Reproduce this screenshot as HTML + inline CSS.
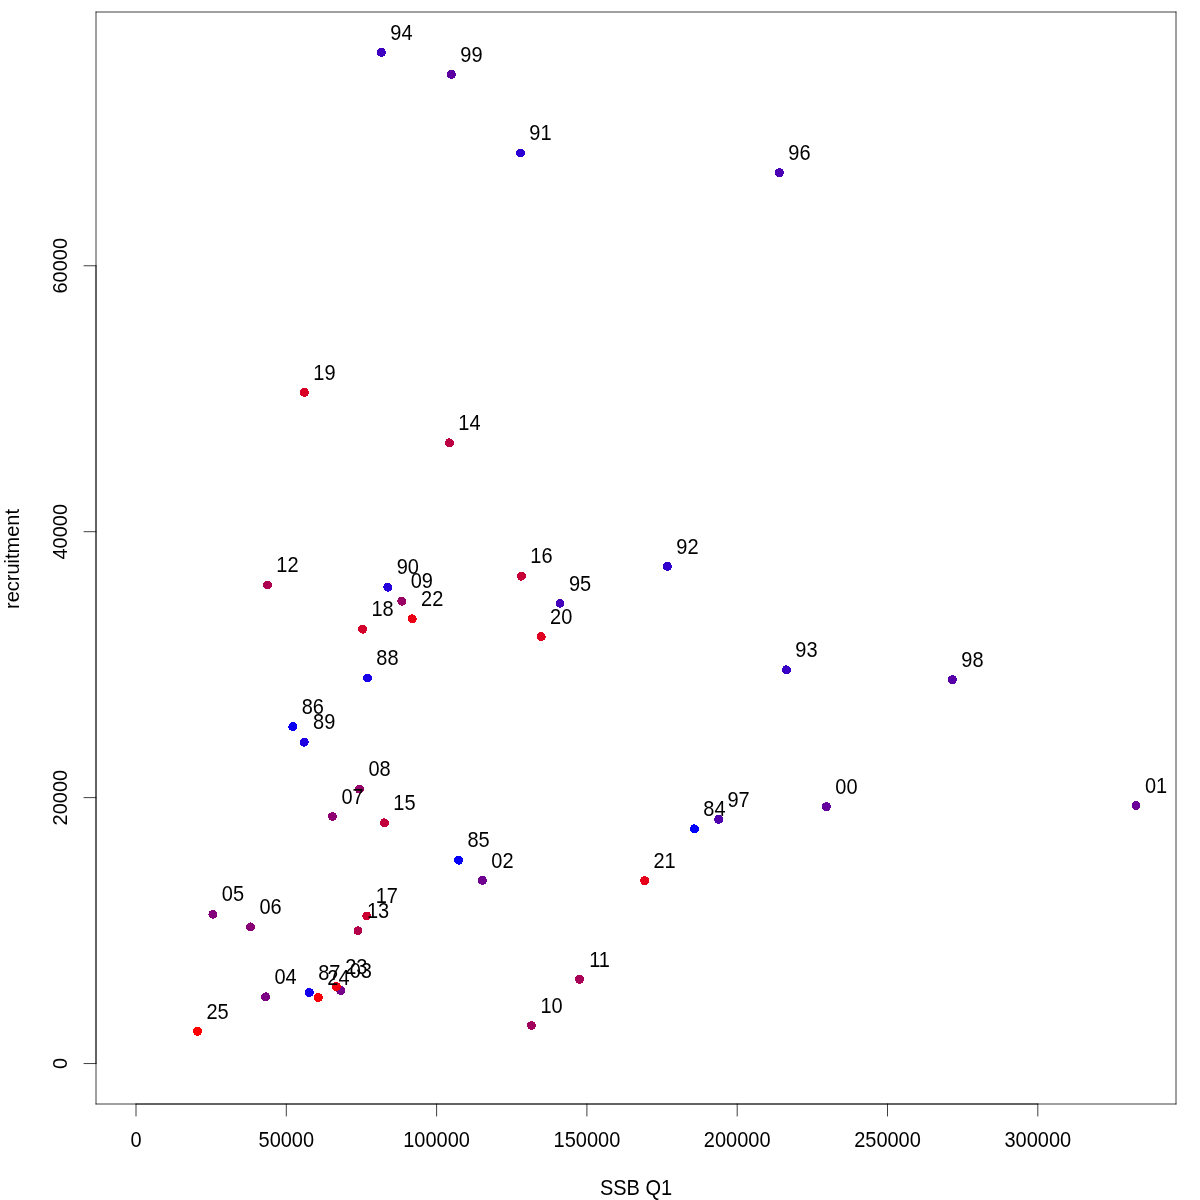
<!DOCTYPE html>
<html lang="en">
<head>
<meta charset="utf-8">
<title>SSB Q1 vs recruitment</title>
<style>
html,body{margin:0;padding:0;background:#fff;}
body{width:1200px;height:1200px;overflow:hidden;}
svg{display:block;}
svg{will-change:transform;}
text{font-family:"Liberation Sans",sans-serif;font-size:21.5px;fill:#000;text-anchor:middle;}
text.r{font-size:20px;}
.ln{stroke:#000;stroke-width:0.75;fill:none;stroke-linecap:round;stroke-linejoin:round;}
</style>
</head>
<body>
<svg width="1200" height="1200" viewBox="0 0 1200 1200">
<rect x="0" y="0" width="1200" height="1200" fill="#ffffff"/>

<g id="points" shape-rendering="crispEdges">
<circle cx="694.40" cy="828.80" r="4.5" fill="#0000FF"/>
<circle cx="458.60" cy="860.20" r="4.5" fill="#0600F9"/>
<circle cx="292.80" cy="726.60" r="4.5" fill="#0C00F3"/>
<circle cx="309.30" cy="992.50" r="4.5" fill="#1300EC"/>
<circle cx="367.40" cy="678.00" r="4.5" fill="#1900E6"/>
<circle cx="304.20" cy="742.20" r="4.5" fill="#1F00E0"/>
<circle cx="387.80" cy="587.20" r="4.5" fill="#2500DA"/>
<circle cx="520.40" cy="153.00" r="4.5" fill="#2C00D3"/>
<circle cx="667.40" cy="566.40" r="4.5" fill="#3200CD"/>
<circle cx="786.40" cy="669.80" r="4.5" fill="#3800C7"/>
<circle cx="381.40" cy="52.40" r="4.5" fill="#3E00C1"/>
<circle cx="560.00" cy="603.30" r="4.5" fill="#4400BB"/>
<circle cx="779.40" cy="172.60" r="4.5" fill="#4B00B4"/>
<circle cx="718.60" cy="819.40" r="4.5" fill="#5100AE"/>
<circle cx="952.40" cy="679.60" r="4.5" fill="#5700A8"/>
<circle cx="451.40" cy="74.40" r="4.5" fill="#5D00A2"/>
<circle cx="826.40" cy="806.60" r="4.5" fill="#64009B"/>
<circle cx="1136.00" cy="805.60" r="4.5" fill="#6A0095"/>
<circle cx="482.40" cy="880.40" r="4.5" fill="#70008F"/>
<circle cx="340.80" cy="990.60" r="4.5" fill="#760089"/>
<circle cx="265.60" cy="996.80" r="4.5" fill="#7C0083"/>
<circle cx="212.95" cy="914.25" r="4.5" fill="#83007C"/>
<circle cx="250.50" cy="926.95" r="4.5" fill="#890076"/>
<circle cx="332.50" cy="816.50" r="4.5" fill="#8F0070"/>
<circle cx="359.50" cy="789.20" r="4.5" fill="#95006A"/>
<circle cx="401.80" cy="601.20" r="4.5" fill="#9B0064"/>
<circle cx="531.50" cy="1025.50" r="4.5" fill="#A2005D"/>
<circle cx="579.50" cy="979.30" r="4.5" fill="#A80057"/>
<circle cx="267.40" cy="585.00" r="4.5" fill="#AE0051"/>
<circle cx="358.00" cy="930.80" r="4.5" fill="#B4004B"/>
<circle cx="449.40" cy="442.80" r="4.5" fill="#BB0044"/>
<circle cx="384.40" cy="822.80" r="4.5" fill="#C1003E"/>
<circle cx="521.40" cy="576.20" r="4.5" fill="#C70038"/>
<circle cx="366.80" cy="916.00" r="4.5" fill="#CD0032"/>
<circle cx="362.60" cy="629.20" r="4.5" fill="#D3002C"/>
<circle cx="304.40" cy="392.40" r="4.5" fill="#DA0025"/>
<circle cx="541.20" cy="636.60" r="4.5" fill="#E0001F"/>
<circle cx="644.60" cy="880.60" r="4.5" fill="#E60019"/>
<circle cx="412.20" cy="618.80" r="4.5" fill="#EC0013"/>
<circle cx="336.30" cy="986.50" r="4.5" fill="#F3000C"/>
<circle cx="318.40" cy="997.50" r="4.5" fill="#F90006"/>
<circle cx="197.50" cy="1031.30" r="4.5" fill="#FF0000"/>
</g>
<g id="xaxis">
<path class="ln" d="M136.00 1104H1037.80"/>
<path class="ln" d="M136.00 1104V1116"/>
<path class="ln" d="M286.30 1104V1116"/>
<path class="ln" d="M436.60 1104V1116"/>
<path class="ln" d="M586.90 1104V1116"/>
<path class="ln" d="M737.20 1104V1116"/>
<path class="ln" d="M887.50 1104V1116"/>
<path class="ln" d="M1037.80 1104V1116"/>
<text transform="translate(136.00 1147.2) scale(0.9302 1)">0</text>
<text transform="translate(286.30 1147.2) scale(0.9302 1)">50000</text>
<text transform="translate(436.60 1147.2) scale(0.9302 1)">100000</text>
<text transform="translate(586.90 1147.2) scale(0.9302 1)">150000</text>
<text transform="translate(737.20 1147.2) scale(0.9302 1)">200000</text>
<text transform="translate(887.50 1147.2) scale(0.9302 1)">250000</text>
<text transform="translate(1037.80 1147.2) scale(0.9302 1)">300000</text>
</g>
<g id="yaxis">
<path class="ln" d="M96 1063.56V265.75"/>
<path class="ln" d="M96 1063.56H84"/>
<path class="ln" d="M96 797.62H84"/>
<path class="ln" d="M96 531.69H84"/>
<path class="ln" d="M96 265.75H84"/>
<text class="r" transform="translate(67.2 1063.56) rotate(-90)">0</text>
<text class="r" transform="translate(67.2 797.62) rotate(-90)">20000</text>
<text class="r" transform="translate(67.2 531.69) rotate(-90)">40000</text>
<text class="r" transform="translate(67.2 265.75) rotate(-90)">60000</text>
</g>
<g id="box">
<path class="ln" d="M96 1104H1176"/>
<path class="ln" d="M1176 1104V12"/>
<path class="ln" d="M1176 12H96"/>
<path class="ln" d="M96 12V1104"/>
</g>
<text transform="translate(636 1195.2) scale(0.9302 1)">SSB Q1</text>
<text class="r" transform="translate(19.2 559) rotate(-90)">recruitment</text>
<g id="labels">
<text transform="translate(714.4 816.0) scale(0.9302 1)">84</text>
<text transform="translate(478.6 847.4) scale(0.9302 1)">85</text>
<text transform="translate(312.8 713.8) scale(0.9302 1)">86</text>
<text transform="translate(329.3 979.7) scale(0.9302 1)">87</text>
<text transform="translate(387.4 665.2) scale(0.9302 1)">88</text>
<text transform="translate(324.2 729.4) scale(0.9302 1)">89</text>
<text transform="translate(407.8 574.4) scale(0.9302 1)">90</text>
<text transform="translate(540.4 140.2) scale(0.9302 1)">91</text>
<text transform="translate(687.4 553.6) scale(0.9302 1)">92</text>
<text transform="translate(806.4 657.0) scale(0.9302 1)">93</text>
<text transform="translate(401.4 39.6) scale(0.9302 1)">94</text>
<text transform="translate(580.0 590.5) scale(0.9302 1)">95</text>
<text transform="translate(799.4 159.8) scale(0.9302 1)">96</text>
<text transform="translate(738.6 806.6) scale(0.9302 1)">97</text>
<text transform="translate(972.4 666.8) scale(0.9302 1)">98</text>
<text transform="translate(471.4 61.6) scale(0.9302 1)">99</text>
<text transform="translate(846.4 793.8) scale(0.9302 1)">00</text>
<text transform="translate(1156.0 792.8) scale(0.9302 1)">01</text>
<text transform="translate(502.4 867.6) scale(0.9302 1)">02</text>
<text transform="translate(360.8 977.8) scale(0.9302 1)">03</text>
<text transform="translate(285.6 984.0) scale(0.9302 1)">04</text>
<text transform="translate(232.9 901.4) scale(0.9302 1)">05</text>
<text transform="translate(270.5 914.1) scale(0.9302 1)">06</text>
<text transform="translate(352.5 803.7) scale(0.9302 1)">07</text>
<text transform="translate(379.5 776.4) scale(0.9302 1)">08</text>
<text transform="translate(421.8 588.4) scale(0.9302 1)">09</text>
<text transform="translate(551.5 1012.7) scale(0.9302 1)">10</text>
<text transform="translate(599.5 966.5) scale(0.9302 1)">11</text>
<text transform="translate(287.4 572.2) scale(0.9302 1)">12</text>
<text transform="translate(378.0 918.0) scale(0.9302 1)">13</text>
<text transform="translate(469.4 430.0) scale(0.9302 1)">14</text>
<text transform="translate(404.4 810.0) scale(0.9302 1)">15</text>
<text transform="translate(541.4 563.4) scale(0.9302 1)">16</text>
<text transform="translate(386.8 903.2) scale(0.9302 1)">17</text>
<text transform="translate(382.6 616.4) scale(0.9302 1)">18</text>
<text transform="translate(324.4 379.6) scale(0.9302 1)">19</text>
<text transform="translate(561.2 623.8) scale(0.9302 1)">20</text>
<text transform="translate(664.6 867.8) scale(0.9302 1)">21</text>
<text transform="translate(432.2 606.0) scale(0.9302 1)">22</text>
<text transform="translate(356.3 973.7) scale(0.9302 1)">23</text>
<text transform="translate(338.4 984.7) scale(0.9302 1)">24</text>
<text transform="translate(217.5 1018.5) scale(0.9302 1)">25</text>
</g>
</svg>
</body>
</html>
